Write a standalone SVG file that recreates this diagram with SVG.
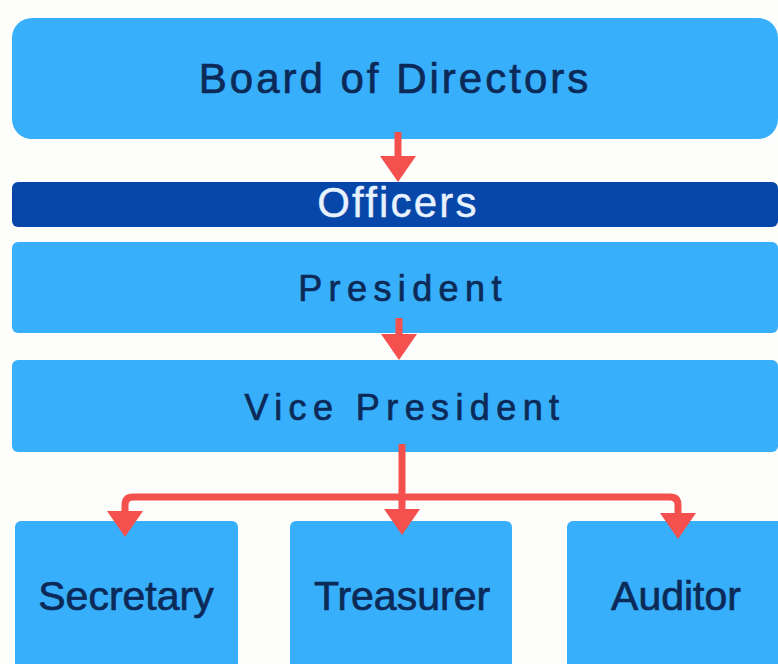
<svg xmlns="http://www.w3.org/2000/svg" width="778" height="664" viewBox="0 0 778 664">
  <style>
    .box { fill: #38affb; }
    .bar { fill: #0647a9; }
    .lbl { font-family: "Liberation Sans", Arial, sans-serif; fill: #0c2a58; stroke: #0c2a58; stroke-width: 0.7; text-anchor: middle; }
    .wide { font-size: 36px; letter-spacing: 6.4px; }
    .big { font-size: 42px; letter-spacing: 3px; }
    .small { font-size: 41px; }
    .link { fill: none; stroke: #f4514e; stroke-width: 7; stroke-linejoin: round; }
  </style>
  <defs>
    <marker id="head" markerUnits="userSpaceOnUse" markerWidth="26" markerHeight="36" refX="0" refY="18" orient="auto" viewBox="0 0 26 36">
      <path d="M0,0 L26,18 L0,36 Z" fill="#f4514e"/>
    </marker>
  </defs>

  <rect width="778" height="664" fill="#fdfdfb"/>

  <g id="board">
    <rect class="box" x="12" y="18" width="766" height="121" rx="20"/>
    <text class="lbl big" x="395" y="93">Board of Directors</text>
  </g>

  <g id="officers">
    <rect class="bar" x="12" y="182" width="766" height="45" rx="6"/>
    <text class="lbl big" x="398" y="217" style="fill:#e8f2ff;stroke:#e8f2ff;stroke-width:0.4;letter-spacing:2.2px">Officers</text>
  </g>

  <g id="president">
    <rect class="box" x="12" y="242" width="766" height="91" rx="6"/>
    <text class="lbl wide" x="403" y="301">President</text>
  </g>

  <g id="vice-president">
    <rect class="box" x="12" y="360" width="766" height="92" rx="6"/>
    <text class="lbl wide" x="405" y="420">Vice President</text>
  </g>

  <g id="secretary">
    <rect class="box" x="15" y="521" width="223" height="160" rx="6"/>
    <text class="lbl small" x="126" y="610">Secretary</text>
  </g>

  <g id="treasurer">
    <rect class="box" x="290" y="521" width="222" height="160" rx="6"/>
    <text class="lbl small" x="402" y="610">Treasurer</text>
  </g>

  <g id="auditor">
    <rect class="box" x="567" y="521" width="230" height="160" rx="6"/>
    <text class="lbl small" x="676" y="610">Auditor</text>
  </g>

  <g id="connectors">
    <path class="link" d="M398,132 V156" marker-end="url(#head)"/>
    <path class="link" d="M399,318 V334" marker-end="url(#head)"/>
    <path class="link" d="M402,444 V509" marker-end="url(#head)"/>
    <path class="link" d="M402,497 H133 Q125,497 125,505 V511" marker-end="url(#head)"/>
    <path class="link" d="M402,497 H670 Q678,497 678,505 V513" marker-end="url(#head)"/>
  </g>
</svg>
